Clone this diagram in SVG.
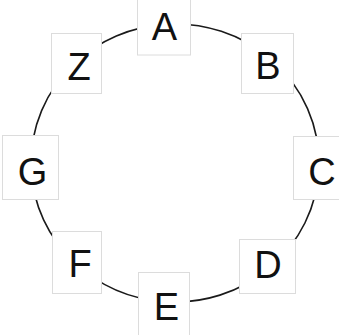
<svg xmlns="http://www.w3.org/2000/svg" width="339" height="335" viewBox="0 0 339 335">
<style>
.edge{fill:none;stroke:#1a1a1a;stroke-width:1.6}
.box{fill:#fff;stroke:#dcdcdc;stroke-width:1}
.lbl{font-family:"Liberation Sans",Arial,sans-serif;font-size:38px;fill:#111;text-anchor:middle}
</style>
<rect width="339" height="335" fill="#fff"/>
<g id="connectors">
<path class="edge" d="M164,24.4 A144,139 0 0 1 271.2,59.5"/>
<path class="edge" d="M271.2,59.5 A144,139 0 0 1 318.9,167.9"/>
<path class="edge" d="M318.9,167.9 A144,139 0 0 1 269.3,268.1"/>
<path class="edge" d="M269.3,268.1 A144,139 0 0 1 163.5,301.6"/>
<path class="edge" d="M163.5,301.6 A144,139 0 0 1 75.5,263.5"/>
<path class="edge" d="M75.5,263.5 A144,139 0 0 1 31.1,167.9"/>
<path class="edge" d="M31.1,167.9 A144,139 0 0 1 75.5,62.5"/>
<path class="edge" d="M75.5,62.5 A144,139 0 0 1 164,24.4"/>
</g>
<g id="node-A"><rect class="box" x="137.5" y="-8" width="53" height="63"/><text class="lbl" x="164.5" y="40">A</text></g>
<g id="node-B"><rect class="box" x="241.5" y="33.5" width="52" height="60"/><text class="lbl" x="268" y="79">B</text></g>
<g id="node-C"><rect class="box" x="293.5" y="136.5" width="54" height="63"/><text class="lbl" x="322" y="184.5">C</text></g>
<g id="node-D"><rect class="box" x="239.5" y="239.5" width="56" height="54"/><text class="lbl" x="268" y="278">D</text></g>
<g id="node-E"><rect class="box" x="138.5" y="272.5" width="51" height="66"/><text class="lbl" x="166.5" y="320">E</text></g>
<g id="node-F"><rect class="box" x="52.5" y="231.5" width="49" height="62"/><text class="lbl" x="80" y="277">F</text></g>
<g id="node-G"><rect class="box" x="2.5" y="135.5" width="56" height="64"/><text class="lbl" x="32.5" y="184.5">G</text></g>
<g id="node-Z"><rect class="box" x="51.5" y="33.5" width="50" height="60"/><text class="lbl" x="79" y="80">Z</text></g>
</svg>
